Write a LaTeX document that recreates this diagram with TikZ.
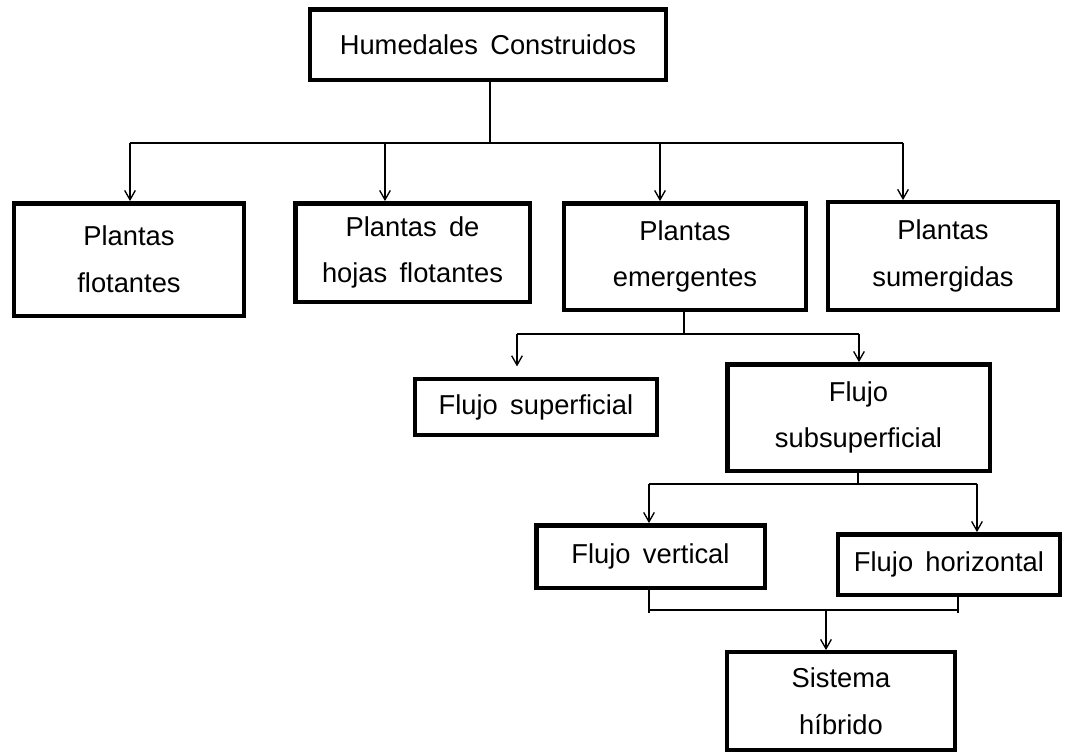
\documentclass[tikz,border=0pt]{standalone}
\usepackage{fontspec}
\setmainfont{Liberation Sans}
\usetikzlibrary{arrows.meta}
\newcommand\boxfont{\fontsize{20.5}{35}\selectfont\spaceskip=0.45em\relax}

\begin{document}
\begin{tikzpicture}[x=0.75pt, y=-0.75pt,
    box/.style={draw, line width=3.3pt, align=center, inner sep=0pt,
      font=\boxfont},
    link/.style={line width=1pt},
    arr/.style={link, -{Straight Barb[length=7pt,width=8pt]}}]
  \useasboundingbox (0,0) rectangle (1065,754);

  % boxes
  \node[box, minimum width=266.6pt, minimum height=52.8pt] (hc) at (488,44.5) {Humedales Construidos};
  \node[box, minimum width=172.1pt, minimum height=84.3pt] (pf) at (129,259.5) {Plantas\\flotantes};
  \node[box, minimum width=175.8pt, minimum height=73.8pt] (phf) at (412.5,252.5) {Plantas de\\hojas flotantes};
  \node[box, minimum width=181.1pt, minimum height=79.8pt] (pe) at (685,256.5) {Plantas\\emergentes};
  \node[box, minimum width=172.1pt, minimum height=80.6pt] (ps) at (943,256) {Plantas\\sumergidas};
  \node[box, minimum width=181.1pt, minimum height=41.6pt] (fs) at (536,407) {Flujo superficial};
  \node[box, minimum width=196.8pt, minimum height=79.8pt] (fss) at (858.5,417.5) {Flujo\\subsuperficial};
  \node[box, minimum width=171.3pt, minimum height=46.8pt] (fv) at (650.5,556.5) {Flujo vertical};
  \node[box, minimum width=166.1pt, minimum height=45.3pt] (fh) at (949,564.5) {Flujo horizontal};
  \node[box, minimum width=170.6pt, minimum height=73.1pt] (sh) at (841,701) {Sistema\\híbrido};

  % first level
  \coordinate (b0) at (490,143);
  \coordinate (b1) at (130,143);
  \coordinate (b2) at (385,143);
  \coordinate (b3) at (660,143);
  \coordinate (b4) at (903,143);
  \draw[link] (hc.south -| b0) -- (b0);
  \draw[link] (b1) -- (b4);
  \foreach \n/\t in {b1/pf, b2/phf, b3/pe, b4/ps}
    \draw[arr] (\n) -- (\n |- \t.north);

  % emergentes
  \coordinate (c0) at (684,334);
  \coordinate (c1) at (517,334);
  \coordinate (c2) at (859,334);
  \draw[link] (pe.south -| c0) -- (c0);
  \draw[link] (c1) -- (c2);
  \draw[arr, shorten >=8pt] (c1) -- (c1 |- fs.north);
  \draw[arr] (c2) -- (c2 |- fss.north);

  % subsuperficial
  \coordinate (d0) at (858,484);
  \coordinate (d1) at (649,484);
  \coordinate (d2) at (977,484);
  \draw[link] (fss.south -| d0) -- (d0);
  \draw[link] (d1) -- (d2);
  \draw[arr] (d1) -- (d1 |- fv.north);
  \draw[arr] (d2) -- (d2 |- fh.north);

  % hibrido
  \coordinate (e0) at (826,610);
  \coordinate (e1) at (649,610);
  \coordinate (e2) at (958,610);
  \draw[link] (fv.south -| e1) -- ([yshift=-2pt]e1);
  \draw[link] (fh.south -| e2) -- ([yshift=-2pt]e2);
  \draw[link] (e1) -- (e2);
  \draw[arr] (e0) -- (e0 |- sh.north);
\end{tikzpicture}
\end{document}
